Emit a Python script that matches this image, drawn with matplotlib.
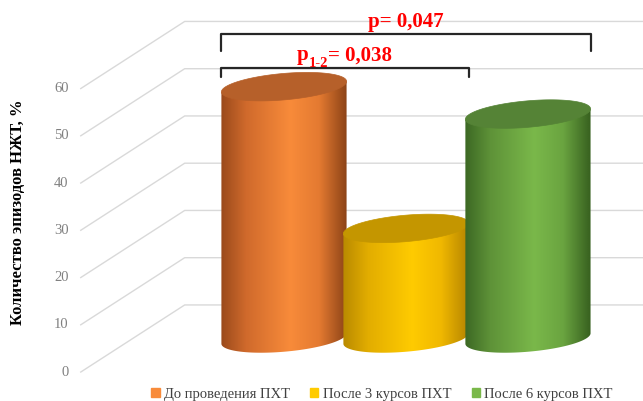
import numpy as np
import matplotlib
matplotlib.use("Agg")
from matplotlib import pyplot as plt, patches as mpatches
from matplotlib.colors import LinearSegmentedColormap

# episode share per treatment stage, %
categories = ["До проведения ПХТ", "После 3 курсов ПХТ", "После 6 курсов ПХТ"]
values = [53.3, 23.3, 47.5]
tick_values = [0, 10, 20, 30, 40, 50, 60]
p_all = "p= 0,047"
p_12 = "0,038"

# body shading: dark edge -> highlight -> dark edge, plus the cap colour
palettes = [
    (["#9a4a1c", "#d06a2c", "#f88b3a", "#e47a31", "#8c4317"], "#b6602a"),
    (["#b98a00", "#e2ad00", "#ffcb00", "#f0b800", "#b48400"], "#c49600"),
    (["#3c6824", "#5e9238", "#7ab84a", "#6aa440", "#37601f"], "#558336"),
]

plt.rcParams['font.family'] = ['Liberation Serif', 'DejaVu Serif']

HALF_W = 0.515        # cylinder half width, category units
FLAT = 0.21           # cap minor/major axis ratio
TILT = np.deg2rad(5)  # cap tilt
DEPTH = (0.426, 7.1)  # half of the floor depth (x, y) in data units
LEFT = -1.24          # side wall position
GRID = "#d9d9d9"

fig = plt.figure(figsize=(6.43, 4.01), dpi=100)
fig.set_facecolor("white")
ax = fig.add_axes([0, 0, 1, 1])
ax.set_xlim(-2.328, 2.943)
ax.set_ylim(-13.23, 71.64)
ax.axis("off")

# side wall diagonals, back wall lines and tick labels
for v in tick_values:
    fx, fy = LEFT - DEPTH[0], v - DEPTH[1]
    bx, by = LEFT + DEPTH[0], v + DEPTH[1]
    ax.plot([fx, bx, 3.0], [fy, by, by], color=GRID, lw=1.0, zorder=1)
    ax.text(fx - 0.1, fy, str(v), ha="right", va="center", fontsize=10.5,
            color="#808080")


def ellipse(cx, cy, t):
    px = ax.transData.transform((cx, cy))
    a = ax.transData.transform((cx + HALF_W, cy))[0] - px[0]
    b = a * FLAT
    x = a * np.cos(t) * np.cos(TILT) - b * np.sin(t) * np.sin(TILT)
    y = a * np.cos(t) * np.sin(TILT) + b * np.sin(t) * np.cos(TILT)
    return ax.transData.inverted().transform(np.column_stack([px[0] + x, px[1] + y]))


for i, (v, (shades, cap)) in enumerate(zip(values, palettes)):
    top_end_l = ellipse(i, v, np.array([np.pi]))
    top_end_r = ellipse(i, v, np.array([0.0]))
    bottom = ellipse(i, 0, np.linspace(np.pi, 2 * np.pi, 80))
    body = np.vstack([top_end_l, bottom, top_end_r])
    clip = mpatches.Polygon(body, closed=True, transform=ax.transData,
                            facecolor="none", edgecolor="none")
    ax.add_patch(clip)
    cmap = LinearSegmentedColormap.from_list(
        f"c{i}", list(zip([0, 0.2, 0.55, 0.78, 1], shades)))
    grad = cmap(np.linspace(0, 1, 256))[None, :, :3]
    x0, x1 = body[:, 0].min(), body[:, 0].max()
    y0, y1 = body[:, 1].min(), body[:, 1].max()
    im = ax.imshow(grad, extent=(x0, x1, y0, y1), aspect="auto",
                   interpolation="bilinear", zorder=2 + i)
    im.set_clip_path(clip)
    top = ellipse(i, v, np.linspace(0, 2 * np.pi, 160))
    ax.add_patch(mpatches.Polygon(top, closed=True, facecolor=cap,
                                  edgecolor=cap, lw=0.5, zorder=2 + i))

# significance brackets
bk = dict(color="#262626", lw=1.6, solid_joinstyle="round", solid_capstyle="round",
          zorder=10)
xl, xm, xr = 0 - HALF_W, 1 + HALF_W, 2 + HALF_W
ax.plot([xl, xl, xr, xr], [60.8, 64.4, 64.4, 60.8], **bk)
ax.plot([xl, xl, xm, xm], [55.4, 57.3, 57.3, 55.4], **bk)

red = dict(color="#ff0000", fontweight="bold", fontsize=15, zorder=11)
ax.text(1.0, 66.0, p_all, ha="center", va="baseline", **red)

# p with subscript, laid out piece by piece
renderer = fig.canvas.get_renderer()
inv = ax.transData.inverted()
t_p = ax.text(0.105, 58.9, "p", ha="left", va="baseline", **red)
xe = inv.transform((t_p.get_window_extent(renderer).x1, 0))[0]
sub = dict(red, fontsize=10.5)
t_s = ax.text(xe, 57.5, "1-2", ha="left", va="baseline", **sub)
xe = inv.transform((t_s.get_window_extent(renderer).x1, 0))[0]
ax.text(xe, 58.9, "= " + p_12, ha="left", va="baseline", **red)

# y title
fig.text(0.028, 0.47, "Количество эпизодов НЖТ, %", rotation=90, ha="center",
         va="center", fontsize=12, fontweight="bold", color="black")

handles = [mpatches.Patch(color=p[0][2], label=c) for c, p in zip(categories, palettes)]
fig.legend(handles=handles, loc="lower center", bbox_to_anchor=(0.594, -0.032),
           ncol=3, frameon=False, fontsize=10.5, handlelength=0.55,
           handleheight=0.55, handletextpad=0.3, columnspacing=1.4,
           labelcolor="#404040")

fig.savefig("out.png", dpi=100)
